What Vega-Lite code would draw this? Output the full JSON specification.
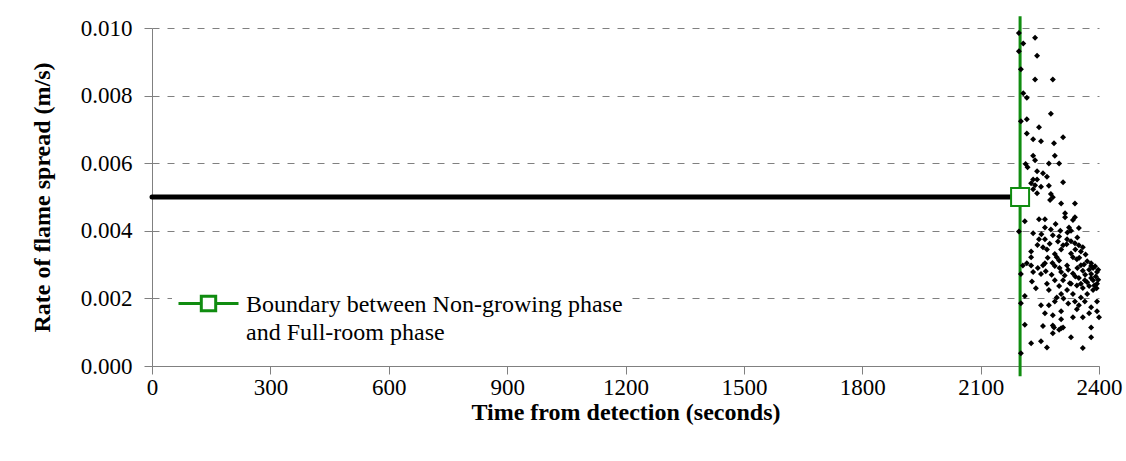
{
  "$schema": "https://vega.github.io/schema/vega-lite/v6.json",
  "width": 947,
  "height": 338,
  "padding": {"left": 30, "top": 14, "right": 5, "bottom": 5},
  "background": "white",
  "config": {
    "view": {"stroke": null},
    "font": "Liberation Serif",
    "axis": {
      "labelFont": "Liberation Serif",
      "titleFont": "Liberation Serif",
      "labelFontSize": 23,
      "titleFontSize": 24,
      "titleFontWeight": "bold",
      "labelColor": "black",
      "titleColor": "black",
      "domainColor": "#808080",
      "tickColor": "#808080",
      "tickSize": 8,
      "labelFlush": false,
      "labelOverlap": false
    }
  },
  "datasets": {
    "flat": [
      {"t": 0, "v": 0.005},
      {"t": 2200, "v": 0.005}
    ],
    "boundary": [
      {"t": 2200, "v0": -0.0003, "v1": 0.01035, "series": "Boundary between Non-growing phase|and Full-room phase"}
    ],
    "marker": [
      {"t": 2200, "v": 0.005}
    ],
    "points": [
      {"t": 2197, "v": 0.00985}, {"t": 2238, "v": 0.00971}, {"t": 2208, "v": 0.00954}, {"t": 2197, "v": 0.00931},
      {"t": 2243, "v": 0.00918}, {"t": 2202, "v": 0.00878}, {"t": 2238, "v": 0.00848}, {"t": 2283, "v": 0.00848},
      {"t": 2208, "v": 0.00807}, {"t": 2217, "v": 0.00794}, {"t": 2278, "v": 0.00746}, {"t": 2202, "v": 0.00724},
      {"t": 2217, "v": 0.0073}, {"t": 2248, "v": 0.00706}, {"t": 2217, "v": 0.00688}, {"t": 2233, "v": 0.00671},
      {"t": 2309, "v": 0.00677}, {"t": 2253, "v": 0.00665}, {"t": 2286, "v": 0.00659}, {"t": 2233, "v": 0.00622},
      {"t": 2288, "v": 0.00622}, {"t": 2238, "v": 0.00609}, {"t": 2214, "v": 0.00598}, {"t": 2219, "v": 0.00588},
      {"t": 2273, "v": 0.00599}, {"t": 2299, "v": 0.00599}, {"t": 2243, "v": 0.00576}, {"t": 2258, "v": 0.0057},
      {"t": 2268, "v": 0.0056}, {"t": 2233, "v": 0.00552}, {"t": 2243, "v": 0.00552}, {"t": 2228, "v": 0.00541},
      {"t": 2238, "v": 0.00535}, {"t": 2253, "v": 0.0053}, {"t": 2273, "v": 0.00533}, {"t": 2309, "v": 0.00544},
      {"t": 2233, "v": 0.00523}, {"t": 2243, "v": 0.00511}, {"t": 2278, "v": 0.00509}, {"t": 2283, "v": 0.00499},
      {"t": 2276, "v": 0.00491}, {"t": 2304, "v": 0.00481}, {"t": 2339, "v": 0.00481},
      {"t": 2212, "v": 0.00428}, {"t": 2248, "v": 0.00434}, {"t": 2263, "v": 0.00434}, {"t": 2314, "v": 0.00452},
      {"t": 2314, "v": 0.0044}, {"t": 2339, "v": 0.0044}, {"t": 2334, "v": 0.00432}, {"t": 2197, "v": 0.00398},
      {"t": 2233, "v": 0.00393}, {"t": 2263, "v": 0.0041}, {"t": 2278, "v": 0.00404}, {"t": 2324, "v": 0.0041},
      {"t": 2329, "v": 0.004}, {"t": 2349, "v": 0.00408}, {"t": 2283, "v": 0.00387}, {"t": 2299, "v": 0.00383},
      {"t": 2248, "v": 0.00375}, {"t": 2263, "v": 0.00375}, {"t": 2319, "v": 0.00375}, {"t": 2329, "v": 0.00369},
      {"t": 2339, "v": 0.00363}, {"t": 2309, "v": 0.00357}, {"t": 2349, "v": 0.00357}, {"t": 2258, "v": 0.00351},
      {"t": 2268, "v": 0.00345}, {"t": 2304, "v": 0.00345}, {"t": 2359, "v": 0.00351}, {"t": 2354, "v": 0.00339},
      {"t": 2228, "v": 0.00339}, {"t": 2288, "v": 0.00331}, {"t": 2329, "v": 0.00333}, {"t": 2228, "v": 0.00322},
      {"t": 2293, "v": 0.00322}, {"t": 2334, "v": 0.00322}, {"t": 2299, "v": 0.00312}, {"t": 2344, "v": 0.00316},
      {"t": 2217, "v": 0.00304}, {"t": 2263, "v": 0.00304}, {"t": 2370, "v": 0.0031}, {"t": 2380, "v": 0.00304},
      {"t": 2207, "v": 0.00297}, {"t": 2228, "v": 0.00297}, {"t": 2258, "v": 0.00298}, {"t": 2288, "v": 0.00296},
      {"t": 2319, "v": 0.00297}, {"t": 2354, "v": 0.00298}, {"t": 2380, "v": 0.00296}, {"t": 2390, "v": 0.00295},
      {"t": 2202, "v": 0.00272}, {"t": 2233, "v": 0.00278}, {"t": 2253, "v": 0.00272}, {"t": 2304, "v": 0.00278},
      {"t": 2334, "v": 0.00274}, {"t": 2359, "v": 0.00282}, {"t": 2380, "v": 0.00272}, {"t": 2395, "v": 0.00278},
      {"t": 2288, "v": 0.00254}, {"t": 2309, "v": 0.00254}, {"t": 2349, "v": 0.0026}, {"t": 2364, "v": 0.00254},
      {"t": 2385, "v": 0.00254}, {"t": 2268, "v": 0.00243}, {"t": 2299, "v": 0.00237}, {"t": 2329, "v": 0.00243},
      {"t": 2354, "v": 0.00243}, {"t": 2375, "v": 0.00237}, {"t": 2395, "v": 0.00243}, {"t": 2273, "v": 0.00225},
      {"t": 2319, "v": 0.00225}, {"t": 2359, "v": 0.00231}, {"t": 2385, "v": 0.00225}, {"t": 2304, "v": 0.00213},
      {"t": 2334, "v": 0.00213}, {"t": 2370, "v": 0.00213}, {"t": 2212, "v": 0.00207}, {"t": 2293, "v": 0.00203},
      {"t": 2354, "v": 0.00203}, {"t": 2202, "v": 0.00186}, {"t": 2288, "v": 0.00191}, {"t": 2339, "v": 0.00191},
      {"t": 2364, "v": 0.00191}, {"t": 2395, "v": 0.00191}, {"t": 2253, "v": 0.0018}, {"t": 2273, "v": 0.0018},
      {"t": 2349, "v": 0.0018}, {"t": 2380, "v": 0.00174}, {"t": 2304, "v": 0.00162}, {"t": 2344, "v": 0.00168},
      {"t": 2263, "v": 0.00156}, {"t": 2283, "v": 0.0015}, {"t": 2375, "v": 0.00156}, {"t": 2395, "v": 0.00162},
      {"t": 2334, "v": 0.00144}, {"t": 2359, "v": 0.00144}, {"t": 2400, "v": 0.00144}, {"t": 2304, "v": 0.00138},
      {"t": 2212, "v": 0.00122}, {"t": 2258, "v": 0.00118}, {"t": 2283, "v": 0.0012}, {"t": 2286, "v": 0.00114},
      {"t": 2304, "v": 0.00112}, {"t": 2309, "v": 0.00114}, {"t": 2380, "v": 0.00114}, {"t": 2283, "v": 0.00097},
      {"t": 2299, "v": 0.00107}, {"t": 2329, "v": 0.00085}, {"t": 2380, "v": 0.00085}, {"t": 2228, "v": 0.00067},
      {"t": 2253, "v": 0.00073}, {"t": 2268, "v": 0.00055}, {"t": 2359, "v": 0.00053}, {"t": 2202, "v": 0.00038},
      {"t": 2385, "v": 0.0029}, {"t": 2392, "v": 0.00265}, {"t": 2375, "v": 0.00285}, {"t": 2398, "v": 0.00255},
      {"t": 2365, "v": 0.0027}, {"t": 2345, "v": 0.0029}, {"t": 2370, "v": 0.00248}, {"t": 2388, "v": 0.00238},
      {"t": 2340, "v": 0.00265}, {"t": 2322, "v": 0.00285}, {"t": 2398, "v": 0.00285}, {"t": 2380, "v": 0.0026},
      {"t": 2394, "v": 0.0023}, {"t": 2362, "v": 0.003}, {"t": 2350, "v": 0.0032}, {"t": 2366, "v": 0.0033},
      {"t": 2340, "v": 0.00345}, {"t": 2318, "v": 0.0036}, {"t": 2296, "v": 0.00368}, {"t": 2275, "v": 0.00362},
      {"t": 2244, "v": 0.00358}, {"t": 2254, "v": 0.0039}, {"t": 2290, "v": 0.0042}, {"t": 2302, "v": 0.004},
      {"t": 2320, "v": 0.00395}, {"t": 2345, "v": 0.0038}, {"t": 2270, "v": 0.0032}, {"t": 2282, "v": 0.00305},
      {"t": 2245, "v": 0.0029}, {"t": 2265, "v": 0.0028}, {"t": 2300, "v": 0.0029}, {"t": 2230, "v": 0.0025},
      {"t": 2240, "v": 0.0023}, {"t": 2313, "v": 0.00268}, {"t": 2326, "v": 0.00245}, {"t": 2344, "v": 0.00238},
      {"t": 2310, "v": 0.002}, {"t": 2322, "v": 0.00185}, {"t": 2280, "v": 0.0027}
    ]
  },
  "layer": [
    {
      "data": {"name": "boundary"},
      "mark": {"type": "rule", "strokeWidth": 3, "clip": false},
      "encoding": {
        "x": {"field": "t", "type": "quantitative", "scale": {"domain": [0, 2400], "nice": false, "zero": false}},
        "y": {"field": "v0", "type": "quantitative", "scale": {"domain": [0, 0.01], "nice": false, "zero": false}},
        "y2": {"field": "v1"},
        "color": {
          "field": "series",
          "type": "nominal",
          "scale": {"range": ["#108c10"]},
          "legend": {
            "orient": "none",
            "legendX": 20,
            "legendY": 239,
            "title": null,
            "fillColor": "white",
            "padding": 5,
            "symbolType": "M-1,0H-0.24M0.24,0H1M-0.24,-0.24H0.24V0.24H-0.24Z",
            "symbolSize": 3600,
            "symbolStrokeWidth": 3,
            "symbolFillColor": "white",
            "symbolStrokeColor": "#108c10",
            "labelFont": "Liberation Serif",
            "labelFontSize": 24,
            "labelColor": "black",
            "labelLimit": 700,
            "labelOffset": 6,
            "labelBaseline": "alphabetic",
            "labelExpr": "split(datum.label, '|')",
            "encode": {
              "symbols": {"update": {"fill": {"value": "white"}, "stroke": {"value": "#108c10"}, "strokeWidth": {"value": 3}}},
              "labels": {"update": {"dy": {"value": 8}, "lineHeight": {"value": 28}}}
            }
          }
        }
      }
    },
    {
      "data": {"name": "flat"},
      "mark": {"type": "line", "color": "black", "strokeWidth": 5, "strokeCap": "round"},
      "encoding": {
        "x": {
          "field": "t",
          "type": "quantitative",
          "scale": {"domain": [0, 2400], "nice": false, "zero": false},
          "axis": {
            "title": "Time from detection (seconds)",
            "values": [0, 300, 600, 900, 1200, 1500, 1800, 2100, 2400],
            "format": "d",
            "grid": false,
            "labelPadding": 2,
            "titlePadding": 1
          }
        },
        "y": {
          "field": "v",
          "type": "quantitative",
          "scale": {"domain": [0, 0.01], "nice": false, "zero": false},
          "axis": {
            "title": "Rate of flame spread (m/s)",
            "values": [0, 0.002, 0.004, 0.006, 0.008, 0.01],
            "format": ".3f",
            "grid": true,
            "gridDash": [7, 8],
            "gridColor": "#808080",
            "labelPadding": 12,
            "titlePadding": 26
          }
        }
      }
    },
    {
      "data": {"name": "points"},
      "mark": {"type": "point", "shape": "diamond", "filled": true, "color": "black", "size": 36, "opacity": 1},
      "encoding": {
        "x": {"field": "t", "type": "quantitative"},
        "y": {"field": "v", "type": "quantitative"}
      }
    },
    {
      "data": {"name": "marker"},
      "mark": {"type": "point", "shape": "square", "size": 324, "filled": true, "fill": "white", "stroke": "#108c10", "strokeWidth": 2, "opacity": 1},
      "encoding": {
        "x": {"field": "t", "type": "quantitative"},
        "y": {"field": "v", "type": "quantitative"}
      }
    }
  ]
}
